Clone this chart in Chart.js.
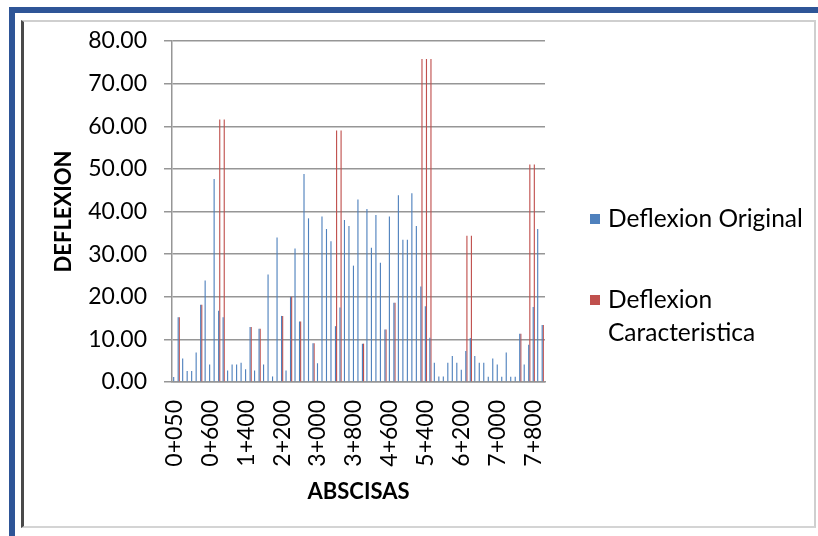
<!DOCTYPE html>
<html>
<head>
<meta charset="utf-8">
<title>Deflexion</title>
<script src="https://cdn.jsdelivr.net/npm/chart.js@4/dist/chart.umd.min.js"></script>
<style>
  html, body { margin: 0; padding: 0; background: #fff; }
  #wrap { position: relative; width: 818px; height: 536px; overflow: hidden; background: #fff; }
  #outer { position: absolute; left: 9px; top: 7px; width: 900px; height: 600px;
           border-left: 6px solid #2e5597; border-top: 6px solid #2e5597; }
  #inner { position: absolute; left: 21px; top: 20px; width: 790px; height: 504px;
           border-left: 3px solid #4a4a4a; border-top: 2px solid #cfcfcf;
           border-right: 2px solid #cfcfcf; border-bottom: 2px solid #d4d4d4; }
  #chart { position: absolute; left: 0; top: 0; }
</style>
</head>
<body>
<div id="wrap">
  <div id="outer"></div>
  <div id="inner"></div>
  <canvas id="chart" width="818" height="536"></canvas>
</div>
<script>
// Stations along the road (abscisas)
const abscisas = [
  '0+050','0+100','0+150','0+200','0+250','0+300','0+400','0+500',
  '0+600','0+700','0+800','0+900','1+000','1+100','1+200','1+300',
  '1+400','1+500','1+600','1+700','1+800','1+900','2+000','2+100',
  '2+200','2+300','2+400','2+500','2+600','2+700','2+800','2+900',
  '3+000','3+100','3+200','3+300','3+400','3+500','3+600','3+700',
  '3+800','3+900','4+000','4+100','4+200','4+300','4+400','4+500',
  '4+600','4+700','4+800','4+900','5+000','5+100','5+200','5+300',
  '5+400','5+500','5+600','5+700','5+800','5+900','6+000','6+100',
  '6+200','6+300','6+400','6+500','6+600','6+700','6+800','6+900',
  '7+000','7+100','7+200','7+300','7+400','7+500','7+600','7+700',
  '7+800','7+900','8+000'
];

// Measured deflection at each station
const deflexionOriginal = [
  1.2, 15.2, 5.5, 2.6, 2.6, 6.9, 18.1, 23.8,
  4.1, 47.6, 16.7, 15.2, 2.7, 4.1, 4.1, 4.5,
  3.0, 12.9, 2.7, 12.5, 4.1, 25.2, 1.3, 33.9,
  15.5, 2.7, 20.0, 31.3, 14.2, 48.8, 38.4, 9.1,
  4.4, 38.8, 35.9, 33.0, 13.1, 17.5, 38.0, 36.6,
  27.3, 42.8, 9.0, 40.6, 31.5, 39.2, 28.0, 12.3,
  38.8, 18.6, 43.8, 33.4, 33.4, 44.3, 36.6, 22.4,
  17.8, 10.4, 4.5, 1.3, 1.3, 4.5, 6.1, 4.5,
  2.9, 7.3, 10.3, 6.1, 4.5, 4.5, 1.25, 5.5,
  4.1, 1.25, 6.9, 1.25, 1.25, 11.3, 4.1, 8.75,
  17.6, 35.9, 13.4
];

// Characteristic deflection per section
const deflexionCaracteristica = [
  0, 15.2, 0, 0, 0, 0, 18.1, 0,
  0, 0, 61.6, 61.6, 0, 0, 0, 0,
  0, 12.9, 0, 12.5, 0, 0, 0, 0,
  15.5, 0, 20.0, 0, 14.2, 0, 0, 9.1,
  0, 0, 0, 0, 59.0, 59.0, 0, 0,
  0, 0, 9.0, 0, 0, 0, 0, 12.3,
  0, 18.6, 0, 0, 0, 0, 0, 75.8,
  75.8, 75.8, 0, 0, 0, 0, 0, 0,
  0, 34.3, 34.3, 0, 0, 0, 0, 0,
  0, 0, 0, 0, 0, 11.3, 0, 51.0,
  51.0, 0, 13.4
];

const seriesNames = ['Deflexion Original', 'Deflexion Caracteristica'];
const seriesColors = ['#4f81bd', '#c0504d'];

const FONT = 'Lato, "Liberation Sans", sans-serif';
const GRID = '#969696';

// Legend drawn on the right side, wrapping long names onto a second line
const sideLegend = {
  id: 'sideLegend',
  afterDraw(chart, args, opts) {
    const ctx = chart.ctx;
    ctx.save();
    ctx.font = opts.size + 'px ' + FONT;
    ctx.textBaseline = 'middle';
    ctx.textAlign = 'left';
    chart.data.datasets.forEach((ds, i) => {
      const y = opts.rows[i];
      ctx.fillStyle = ds.backgroundColor;
      ctx.fillRect(opts.boxX, y - opts.box / 2, opts.box, opts.box);
      const words = ds.label.split(' ');
      const lines = [];
      let cur = '';
      words.forEach(w => {
        const t = cur ? cur + ' ' + w : w;
        if (cur && ctx.measureText(t).width > opts.maxWidth) { lines.push(cur); cur = w; }
        else cur = t;
      });
      if (cur) lines.push(cur);
      ctx.fillStyle = '#000';
      lines.forEach((ln, j) => ctx.fillText(ln, opts.textX, y + j * opts.lineHeight));
    });
    ctx.restore();
  }
};

new Chart(document.getElementById('chart'), {
  type: 'bar',
  data: {
    labels: abscisas,
    datasets: [
      { label: seriesNames[0], data: deflexionOriginal, backgroundColor: seriesColors[0],
        borderWidth: 0, barPercentage: 1.0, categoryPercentage: 0.5 },
      { label: seriesNames[1], data: deflexionCaracteristica, backgroundColor: seriesColors[1],
        borderWidth: 0, barPercentage: 1.0, categoryPercentage: 0.5 }
    ]
  },
  options: {
    responsive: false,
    animation: false,
    devicePixelRatio: 1,
    layout: { padding: { left: 0, top: 41, right: 273, bottom: 0 } },
    plugins: {
      legend: { display: false },
      tooltip: { enabled: false },
      sideLegend: { rows: [219, 300], boxX: 590, box: 10, textX: 608, size: 24.5, lineHeight: 33, maxWidth: 205 }
    },
    scales: {
      x: {
        offset: true,
        grid: { display: false, drawTicks: false },
        border: { display: true, color: GRID, width: 1.5 },
        ticks: {
          autoSkip: false, minRotation: 90, maxRotation: 90, padding: 18,
          color: '#000', font: { family: FONT, size: 23 },
          callback(value, index) { return index % 8 === 0 ? this.getLabelForValue(value) : ''; }
        },
        title: { display: true, text: 'ABSCISAS', color: '#000',
                 font: { family: FONT, size: 22, weight: 'bold' }, padding: { top: 0, bottom: 31 } },
        afterFit(scale) { scale.height = 154; }
      },
      y: {
        min: 0, max: 80,
        grid: { color: GRID, lineWidth: 1.5, tickLength: 8, drawTicks: true },
        border: { display: true, color: GRID, width: 1.5 },
        ticks: { stepSize: 10, padding: 17, color: '#000', font: { family: FONT, size: 23 },
                 callback: v => v.toFixed(2) },
        title: { display: true, text: 'DEFLEXION', color: '#000',
                 font: { family: FONT, size: 22, weight: 'bold' }, padding: { top: 51, bottom: 0 } },
        afterFit(scale) { scale.width = 172; }
      }
    }
  },
  plugins: [sideLegend]
});
</script>
</body>
</html>
